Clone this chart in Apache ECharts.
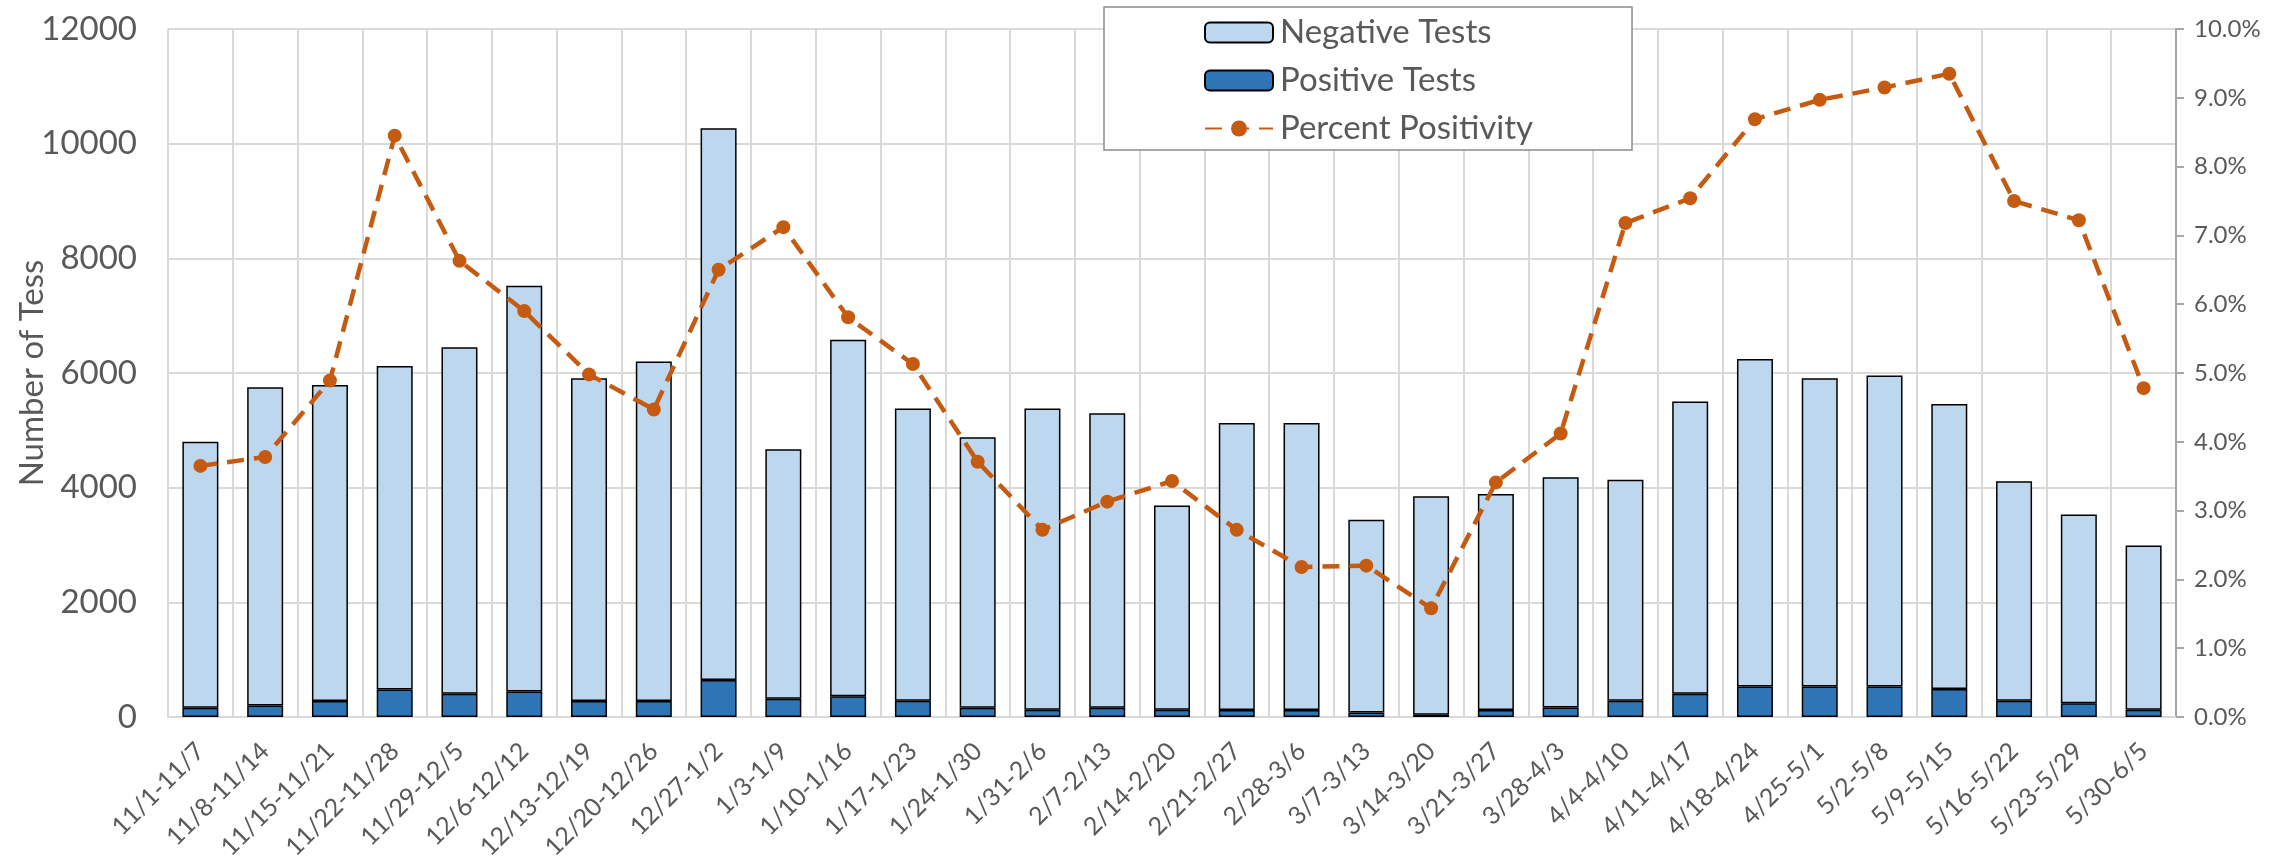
<!DOCTYPE html>
<html>
<head>
<meta charset="utf-8">
<script src="https://cdn.jsdelivr.net/npm/echarts@6/dist/echarts.min.js"></script>
<style>
  html, body { margin: 0; padding: 0; background: #fff; }
  #chart { width: 2295px; height: 866px; }
</style>
</head>
<body>
<div id="chart"></div>
<script>
// weekly test counts
const weeks = ['11/1-11/7', '11/8-11/14', '11/15-11/21', '11/22-11/28', '11/29-12/5', '12/6-12/12',
    '12/13-12/19', '12/20-12/26', '12/27-1/2', '1/3-1/9', '1/10-1/16', '1/17-1/23', '1/24-1/30',
    '1/31-2/6', '2/7-2/13', '2/14-2/20', '2/21-2/27', '2/28-3/6', '3/7-3/13', '3/14-3/20',
    '3/21-3/27', '3/28-4/3', '4/4-4/10', '4/11-4/17', '4/18-4/24', '4/25-5/1', '5/2-5/8',
    '5/9-5/15', '5/16-5/22', '5/23-5/29', '5/30-6/5'];
const totalTests = [4800, 5750, 5790, 6120, 6450, 7520, 5910, 6200, 10270, 4670, 6580, 5380, 4880,
    5380, 5300, 3690, 5130, 5130, 3440, 3850, 3890, 4180, 4140, 5505, 6245, 5910, 5955, 5460,
    4110, 3530, 2990];
const positiveTests = [160, 200, 280, 480, 405, 445, 280, 280, 645, 320, 360, 285, 160, 125, 160,
    125, 120, 120, 80, 40, 120, 165, 285, 405, 530, 530, 530, 490, 285, 240, 125];
const percentPositivity = [3.65, 3.78, 4.89, 8.45, 6.63, 5.90, 4.98, 4.47, 6.50, 7.12, 5.81, 5.13,
    3.71, 2.72, 3.13, 3.43, 2.72, 2.18, 2.20, 1.58, 3.41, 4.12, 7.18, 7.54, 8.69, 8.97, 9.15,
    9.35, 7.50, 7.22, 4.78];
const leftTicks = [0, 12000, 2000];   // min, max, step
const rightTicks = [0, 10, 1];

const negativeTests = totalTests.map((t, i) => t - positiveTests[i]);

const textGray = '#595959';
const gridGray = '#D9D9D9';
const font = 'Lato, "Open Sans", sans-serif';

let myChart = echarts.init(document.getElementById('chart'));
let option = {
    animation: false,
    backgroundColor: '#fff',
    textStyle: { fontFamily: font, color: textGray },
    grid: { left: 168, right: 119, top: 29, bottom: 149, containLabel: false, outerBoundsMode: 'none' },
    legend: {
        orient: 'vertical',
        left: 1104,
        top: 7,
        padding: [9, 99, 5, 100],
        itemGap: 15,
        itemWidth: 68,
        itemHeight: 20,
        borderColor: '#8C8C8C',
        borderWidth: 1.5,
        backgroundColor: '#fff',
        data: ['Negative Tests', 'Positive Tests', 'Percent Positivity'],
        textStyle: { fontSize: 33, color: textGray, fontFamily: font, padding: [0, 0, 0, 2] }
    },
    xAxis: {
        type: 'category',
        data: weeks,
        axisTick: { show: false },
        axisLine: { lineStyle: { color: gridGray, width: 2 } },
        splitLine: { show: true, lineStyle: { color: gridGray, width: 2 } },
        axisLabel: {
            rotate: 45,
            interval: 0,
            fontSize: 25,
            color: textGray,
            margin: 30
        }
    },
    yAxis: [{
        type: 'value',
        min: leftTicks[0],
        max: leftTicks[1],
        interval: leftTicks[2],
        name: 'Number of Tess',
        nameLocation: 'middle',
        nameGap: 119,
        nameMoveOverlap: false,
        nameTextStyle: { fontSize: 33, color: textGray },
        axisLine: { show: false },
        axisTick: { show: false },
        axisLabel: { fontSize: 33, color: textGray, margin: 31, formatter: v => String(v) },
        splitLine: { lineStyle: { color: gridGray, width: 2 } }
    }, {
        type: 'value',
        position: 'right',
        min: rightTicks[0],
        max: rightTicks[1],
        interval: rightTicks[2],
        axisLine: { show: true, lineStyle: { color: '#A6A6A6', width: 2 } },
        axisTick: { show: true, inside: false, length: 8, lineStyle: { color: '#A6A6A6', width: 2 } },
        axisLabel: {
            fontSize: 24,
            color: textGray,
            margin: 18,
            formatter: v => v.toFixed(1) + '%'
        },
        splitLine: { show: false }
    }],
    series: [{
        name: 'Positive Tests',
        type: 'bar',
        stack: 'tests',
        barWidth: 36,
        data: positiveTests,
        itemStyle: { color: '#2E75B6', borderColor: '#000', borderWidth: 1.5 }
    }, {
        name: 'Negative Tests',
        type: 'bar',
        stack: 'tests',
        barWidth: 36,
        data: negativeTests,
        itemStyle: { color: '#BDD7EE', borderColor: '#000', borderWidth: 1.5 }
    }, {
        name: 'Percent Positivity',
        type: 'line',
        yAxisIndex: 1,
        data: percentPositivity,
        symbol: 'circle',
        symbolSize: 14,
        itemStyle: { color: '#C55A11' },
        lineStyle: { color: '#C55A11', width: 4.5, type: [17, 10] },
        z: 5
    }]
};
myChart.setOption(option);
</script>
</body>
</html>
